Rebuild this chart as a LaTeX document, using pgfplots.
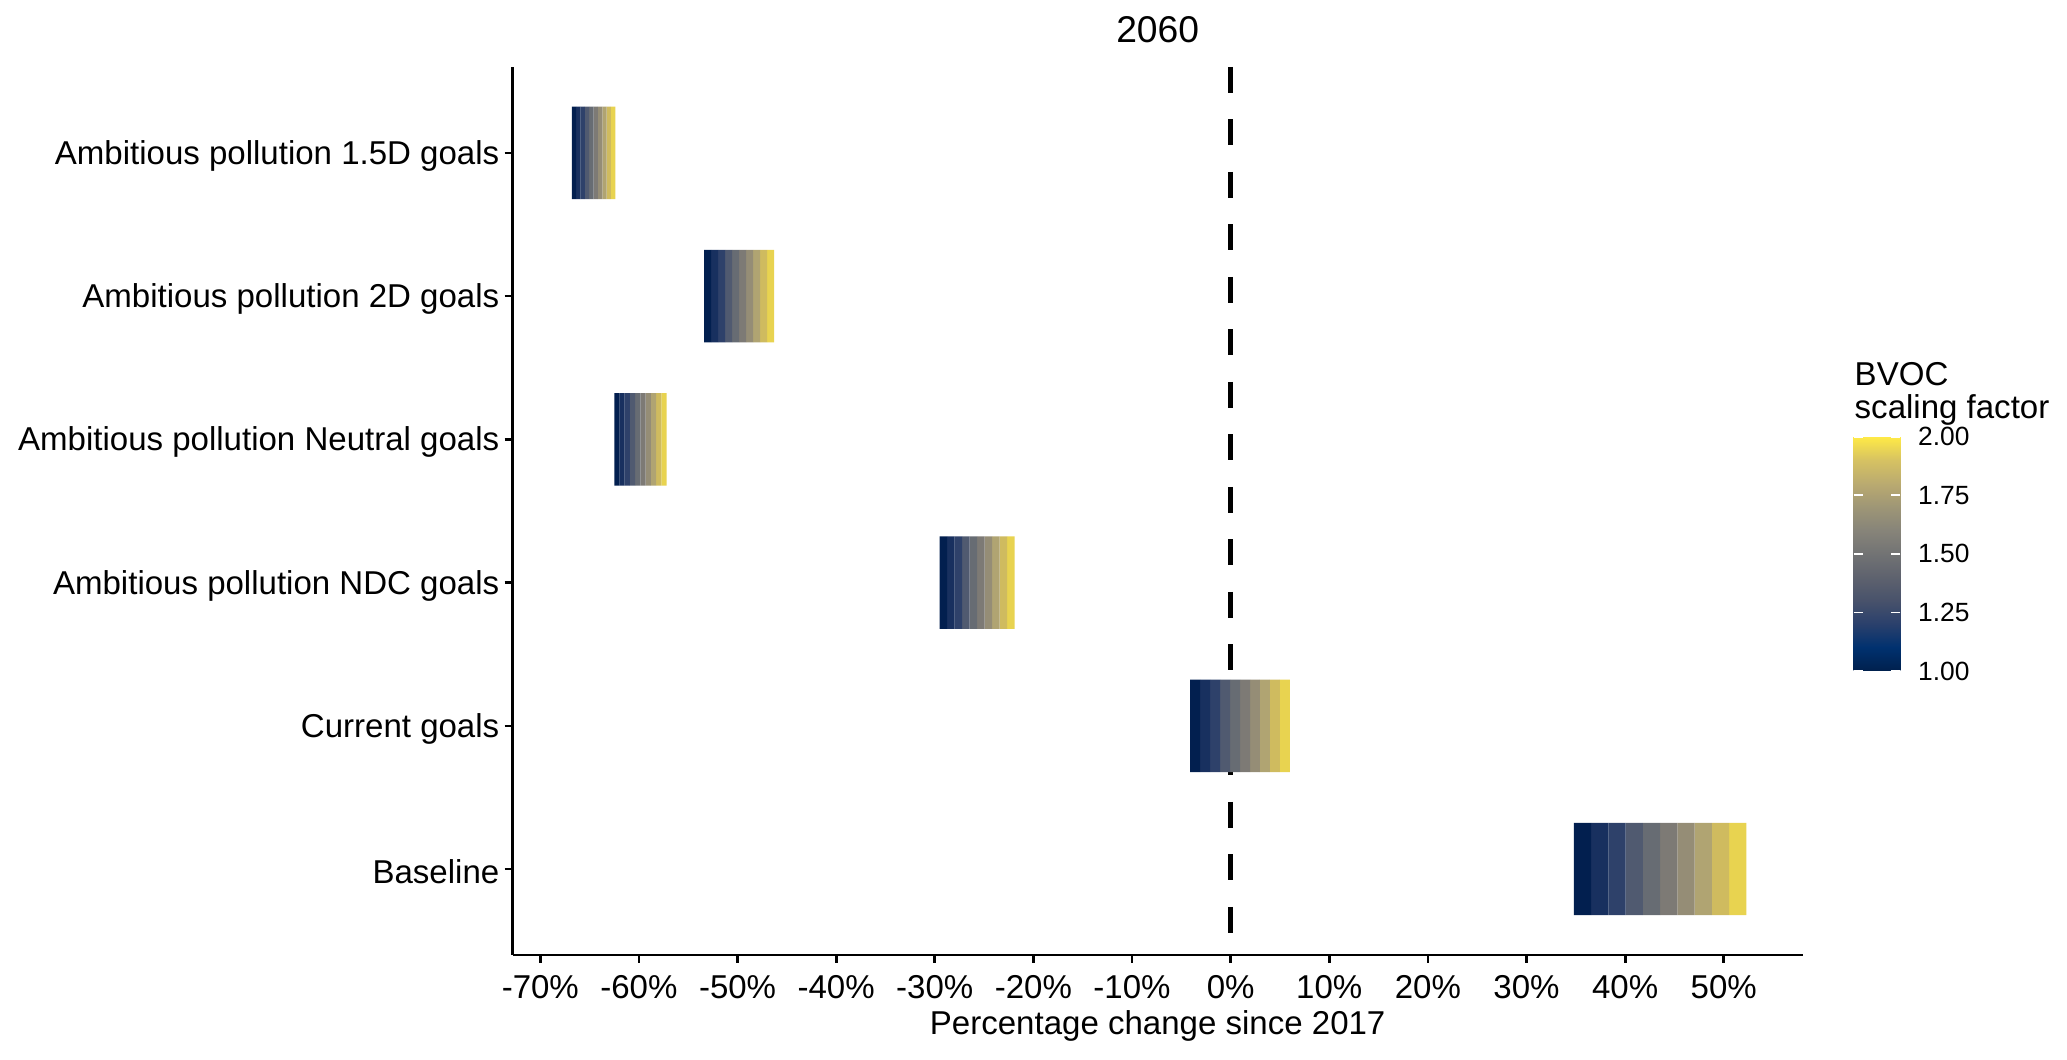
\documentclass[border=0pt]{standalone}
\usepackage{fontspec}
\setmainfont{Liberation Sans}
\usepackage{pgfplots}
\usepackage{pgfplotstable}
\pgfplotsset{compat=1.18}

% stripe colours (scaling factor 1.0 ... 1.9)
\definecolor{cv1}{RGB}{2,31,79}
\definecolor{cv2}{RGB}{24,48,95}
\definecolor{cv3}{RGB}{46,65,106}
\definecolor{cv4}{RGB}{80,90,112}
\definecolor{cv5}{RGB}{103,108,115}
\definecolor{cv6}{RGB}{125,122,117}
\definecolor{cv7}{RGB}{149,141,118}
\definecolor{cv8}{RGB}{176,164,114}
\definecolor{cv9}{RGB}{207,187,95}
\definecolor{cv10}{RGB}{232,211,80}

% y: scenario, start: % change at factor 1.0, w: width of one stripe (10 stripes)
\pgfplotstableread{
y start w
1  34.8  1.75
2  -4.1  1.01
3 -29.5  0.76
4 -62.5  0.53
5 -53.4  0.71
6 -66.8  0.44
}\tiles

\newcommand{\lbl}{\fontsize{9.4}{11}\selectfont}

\begin{document}
\begin{tikzpicture}
\useasboundingbox (0,0) rectangle (20.67cm,10.60cm);
\begin{axis}[
    at={(5.127cm,1.05cm)}, anchor=south west,
    scale only axis, width=12.90cm, height=8.88cm,
    xbar stacked, stack negative=on previous, bar width=0.645,
    xmin=-72.8, xmax=58.0, ymin=0.4, ymax=6.6,
    axis x line*=bottom, axis y line*=left,
    axis line style={line width=0.75pt, -},
    tick align=outside, major tick length=0.08cm,
    tick style={black, line width=0.75pt},
    xtick={-70,-60,...,50},
    xticklabels={-70\%,-60\%,-50\%,-40\%,-30\%,-20\%,-10\%,0\%,10\%,20\%,30\%,40\%,50\%},
    ytick={1,...,6},
    yticklabels={Baseline,Current goals,Ambitious pollution NDC goals,Ambitious pollution Neutral goals,Ambitious pollution 2D goals,Ambitious pollution 1.5D goals},
    tick label style={font=\lbl},
    yticklabel style={xshift=0.07cm, yshift=-0.03cm},
    xlabel={Percentage change since 2017},
    xlabel style={font=\lbl, at={(axis description cs:0.5,0)}, anchor=base, yshift=-0.80cm},
    title={2060},
    title style={font=\fontsize{10.6}{12}\selectfont, at={(axis description cs:0.5,1)}, anchor=base, yshift=0.03cm},
    colormap={civ}{rgb255=(0,32,77) rgb255=(0,49,111) rgb255=(42,64,108) rgb255=(72,82,107) rgb255=(94,98,110) rgb255=(114,115,116) rgb255=(135,132,121) rgb255=(158,150,118) rgb255=(186,170,112) rgb255=(214,194,98) rgb255=(255,234,70)},
    point meta min=1, point meta max=2,
    colorbar,
    colorbar style={
        at={(parent axis.south east)}, anchor=south west,
        xshift=0.21cm, yshift=2.84cm,
        scale only axis, width=0.467cm, height=2.343cm,
        axis line style={draw=none},
        xtick=\empty,
        ytick={1,1.25,1.5,1.75,2},
        yticklabels={1.00,1.25,1.50,1.75,2.00},
        ytick pos=both, yticklabel pos=right,
        tick align=inside, major tick length=0.09cm,
        tick style={white, line width=0.5pt},
        yticklabel style={font=\fontsize{7.5}{8}\selectfont, inner sep=0pt, xshift=0.17cm},
    },
]
\addplot[draw=none, fill=none, forget plot] table[x=start, y=y] {\tiles};
\pgfplotsinvokeforeach{1,...,10}{
  \addplot[draw=none, fill=cv#1, forget plot] table[x=w, y=y] {\tiles};
}
\draw[black, line width=1.4pt, dash pattern=on 0.26cm off 0.265cm] (axis cs:0,6.6) -- (axis cs:0,0.4);
\end{axis}
\node[anchor=base west, inner sep=0pt, font=\lbl] at (18.54cm,6.74cm) {BVOC};
\node[anchor=base west, inner sep=0pt, font=\lbl] at (18.54cm,6.41cm) {scaling factor};
\end{tikzpicture}
\end{document}
